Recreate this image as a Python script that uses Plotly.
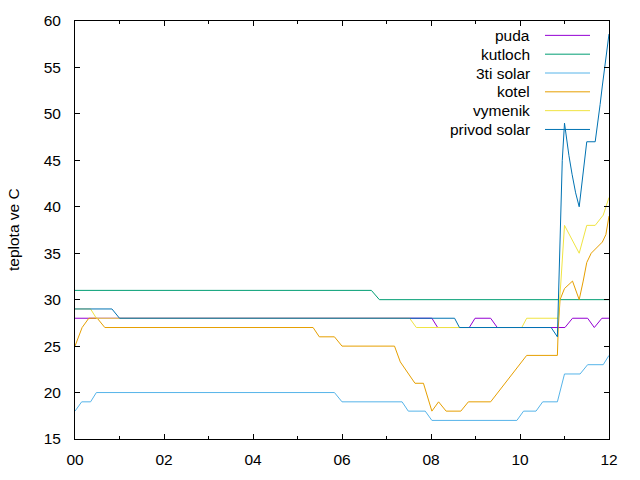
import plotly.graph_objects as go

# ---- data (hours since 00:00, temperature in C) ----
puda_t = [0, 8.02, 8.15, 8.86, 8.99, 9.34, 9.49, 10.71, 11.01, 11.18, 11.52, 11.67, 11.84, 12.0]
puda_v = [28, 28, 27, 27, 28, 28, 27, 27, 27, 28, 28, 27, 28, 28]

kutloch_t = [0, 6.66, 6.84, 12.0]
kutloch_v = [31, 31, 30, 30]

solar3_t = [0, 0.15, 0.35, 0.48, 5.83, 6.0, 7.35, 7.49, 7.87, 8.02, 9.93, 10.08,
            10.36, 10.51, 10.84, 11.0, 11.35, 11.52, 11.87, 12.0]
solar3_v = [18, 19, 19, 20, 20, 19, 19, 18, 18, 17, 17, 18,
            18, 19, 19, 22, 22, 23, 23, 24]

kotel_t = [0, 0.08, 0.16, 0.31, 0.5, 0.67, 5.35, 5.49, 5.83, 6.0, 7.18, 7.31, 7.49,
           7.64, 7.83, 8.02, 8.17, 8.34, 8.67, 8.84, 9.34, 10.15, 10.84, 10.86, 10.9,
           11.0, 11.18, 11.33, 11.42, 11.5, 11.6, 11.75, 11.85, 11.93, 12.0]
kotel_v = [25, 26, 27, 28, 28, 27, 27, 26, 26, 25, 25, 23.3, 22,
           21, 21, 18, 19, 18, 18, 19, 19, 24, 24, 27, 30,
           31.2, 32, 30, 32, 34, 35, 35.7, 36.2, 37, 39]

vymenik_t = [0, 0.35, 0.48, 7.52, 7.67, 10.04, 10.15, 10.86, 10.92, 11.0, 11.33,
             11.5, 11.69, 11.87, 12.0]
vymenik_v = [29, 29, 28, 28, 27, 27, 28, 28, 32, 38, 35,
             38, 38, 39.1, 41]

privod_t = [0, 0.83, 1.0, 8.53, 8.64, 10.7, 10.84, 10.86, 10.9, 10.95, 11.0, 11.05,
            11.1, 11.17, 11.25, 11.33, 11.42, 11.5, 11.69, 11.75, 11.8, 11.85, 11.92, 12.0]
privod_v = [29, 29, 28, 28, 27, 27, 26, 30, 38, 45, 49, 47,
            45.5, 43.5, 41.5, 40, 44, 47, 47, 49, 51, 53, 55.5, 58.6]

series_names = ["puda", "kutloch", "3ti solar", "kotel", "vymenik", "privod solar"]
series_t = [puda_t, kutloch_t, solar3_t, kotel_t, vymenik_t, privod_t]
series_v = [puda_v, kutloch_v, solar3_v, kotel_v, vymenik_v, privod_v]
colors = ["#9400d3", "#009e73", "#56b4e9", "#e69f00", "#f0e442", "#0072b2"]

x_tickvals = [0, 2, 4, 6, 8, 10, 12]
x_ticktext = ["00", "02", "04", "06", "08", "10", "12"]
y_tickvals = [15, 20, 25, 30, 35, 40, 45, 50, 55, 60]

FONT = "Liberation Sans, Arial, sans-serif"
FS = 15.5

fig = go.Figure()
for name, t, v, c in zip(series_names, series_t, series_v, colors):
    fig.add_trace(go.Scatter(x=t, y=v, mode="lines", name=name,
                             line=dict(color=c, width=1), showlegend=False))

# gnuplot-style legend: right-aligned text with line sample to its right
L, R, T, B = 75, 31, 19, 39
W, H = 640 - L - R, 480 - T - B
def px_x(p):
    return (p - L) / W
def px_y(p):
    return (480 - B - p) / H

row0, step = 33.5, 19.0
for i, (name, c) in enumerate(zip(series_names, colors)):
    yy = px_y(row0 + i * step)
    fig.add_annotation(x=px_x(532), y=yy, xref="paper", yref="paper", text=name,
                       showarrow=False, xanchor="right", yanchor="middle",
                       font=dict(family=FONT, size=FS, color="black"))
    fig.add_shape(type="line", xref="paper", yref="paper",
                  x0=px_x(545), x1=px_x(590), y0=yy, y1=yy,
                  line=dict(color=c, width=1))

fig.add_annotation(x=px_x(13), y=0.5, xref="paper", yref="paper", text="teplota ve C",
                   showarrow=False, textangle=-90, xanchor="center", yanchor="middle",
                   font=dict(family=FONT, size=FS, color="black"))

fig.update_layout(
    width=640, height=480,
    margin=dict(l=L, r=R, t=T, b=B, pad=0),
    paper_bgcolor="white", plot_bgcolor="white",
    font=dict(family=FONT, size=FS, color="black"),
    xaxis=dict(range=[0, 12], tickvals=x_tickvals, ticktext=x_ticktext,
               showgrid=False, zeroline=False, showline=True, linecolor="black",
               linewidth=1, mirror="ticks", ticks="inside", ticklen=5,
               tickcolor="black", ticklabelstandoff=6,
               minor=dict(ticks="inside", ticklen=3, dtick=1, tick0=0,
                          tickcolor="black", showgrid=False)),
    yaxis=dict(range=[15, 60], tickvals=y_tickvals,
               showgrid=False, zeroline=False, showline=True, linecolor="black",
               linewidth=1, mirror="ticks", ticks="inside", ticklen=5,
               tickcolor="black", ticklabelstandoff=10),
)

fig.write_html("out.html")
